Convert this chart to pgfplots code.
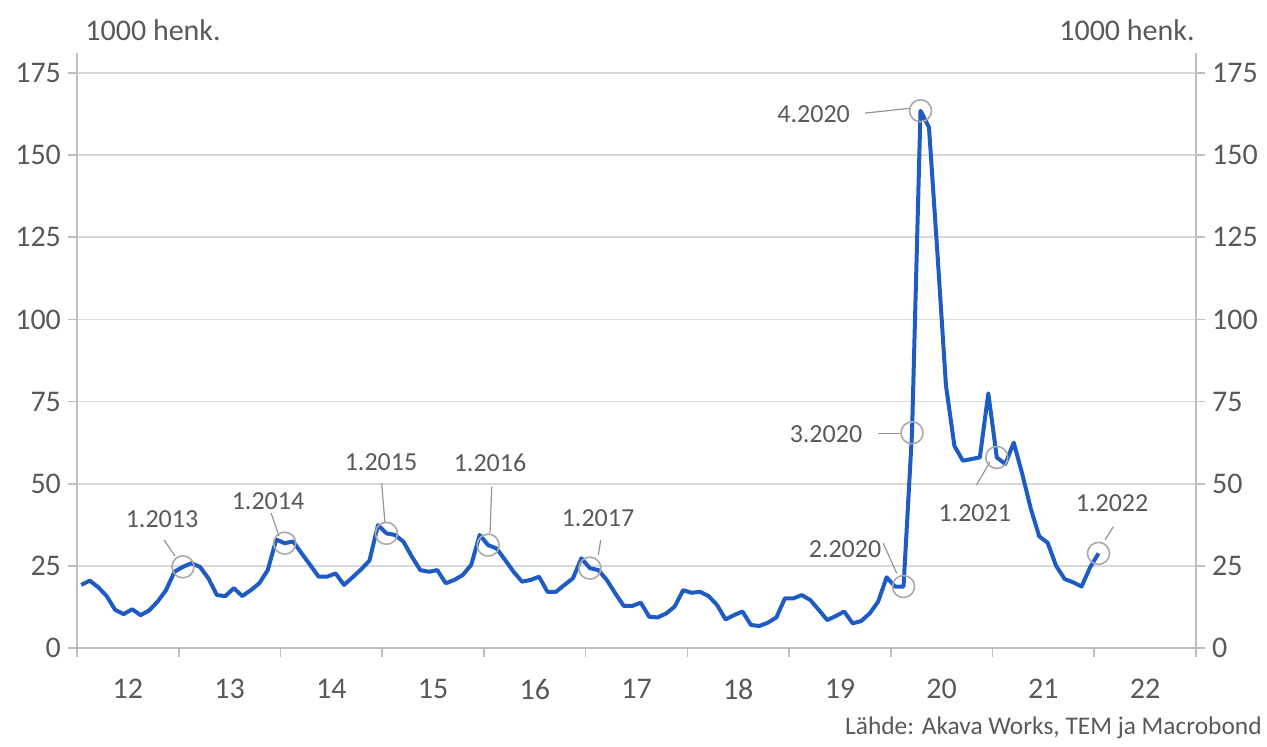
\documentclass[border=0pt]{standalone}
\usepackage{fontspec}
\setmainfont{Carlito}
\usepackage{pgfplots}
\pgfplotsset{compat=1.18}
\definecolor{lineblue}{RGB}{31,91,196}
\definecolor{gridgray}{RGB}{217,217,217}
\definecolor{axisgray}{RGB}{191,191,191}
\definecolor{textgray}{RGB}{89,89,89}
\definecolor{circgray}{RGB}{170,170,170}
\definecolor{leadgray}{RGB}{150,150,150}
\begin{document}
\begin{tikzpicture}
\useasboundingbox (0,0) rectangle (633.5pt,373.5pt);
\begin{axis}[
  at={(38.5pt,49.5pt)}, anchor=south west,
  scale only axis, width=559.5pt, height=297.35pt,
  xmin=-0.5, xmax=131.5, ymin=0, ymax=181,
  axis x line*=bottom, axis y line*=left,
  axis line style={draw=axisgray, line width=0.8pt, -},
  xtick={-0.5,11.5,...,131.5},
  x tick label as interval,
  xticklabels={12,13,14,15,16,17,18,19,20,21,22},
  ytick={0,25,...,175},
  ymajorgrids, grid style={gridgray, line width=0.8pt},
  tick align=outside, major tick length=4.5pt,
  tick style={axisgray, line width=0.8pt},
  ticklabel style={font=\fontsize{15}{18}\selectfont, text=textgray},
  xticklabel style={yshift=-7.5pt},
  /pgf/number format/assume math mode=true,
  clip=false,
]
\addplot[lineblue, line width=2pt, line join=round] coordinates {
(0,19.2)(1,20.5)(2,18.5)(3,15.8)(4,11.6)(5,10.3)(6,11.8)(7,10.0)(8,11.4)(9,14.1)(10,17.6)(11,23.2)
(12,24.7)(13,25.8)(14,24.7)(15,21.2)(16,16.1)(17,15.8)(18,18.2)(19,15.8)(20,17.6)(21,19.7)(22,23.7)(23,33.0)
(24,31.9)(25,32.4)(26,28.8)(27,25.3)(28,21.7)(29,21.7)(30,22.7)(31,19.2)(32,21.5)(33,23.9)(34,26.6)(35,37.4)
(36,34.9)(37,34.4)(38,32.4)(39,27.8)(40,23.7)(41,23.2)(42,23.7)(43,19.7)(44,20.7)(45,22.2)(46,25.3)(47,34.4)
(48,31.3)(49,30.3)(50,26.8)(51,23.2)(52,20.2)(53,20.7)(54,21.7)(55,17.1)(56,17.1)(57,19.2)(58,21.2)(59,27.3)
(60,24.3)(61,23.7)(62,20.7)(63,16.6)(64,12.8)(65,12.8)(66,13.8)(67,9.5)(68,9.3)(69,10.5)(70,12.6)(71,17.6)
(72,16.8)(73,17.1)(74,15.8)(75,13.1)(76,8.7)(77,10.0)(78,11.1)(79,7.0)(80,6.7)(81,7.7)(82,9.3)(83,15.1)
(84,15.1)(85,16.1)(86,14.6)(87,11.6)(88,8.5)(89,9.7)(90,11.1)(91,7.5)(92,8.2)(93,10.5)(94,14.1)(95,21.5)
(96,18.7)(97,18.7)(98,65.5)(99,163.5)(100,158.5)(101,120)(102,80)(103,61.5)(104,57)(105,57.5)(106,58)(107,77.5)
(108,58)(109,56)(110,62.5)(111,53)(112,42.5)(113,34)(114,32)(115,25)(116,21)(117,20)(118,18.7)(119,24.5)
(120,28.8)
};
\addplot[only marks, mark=o, mark size=5.5pt, mark options={draw=circgray, line width=0.8pt}] coordinates {
(12,24.7)(24,31.9)(36,34.9)(48,31.3)(60,24.3)(97,18.7)(98,65.5)(99,163.5)(108,58)(120,28.8)
};
\begin{scope}[leadgray, line width=0.6pt]
\draw (axis cs:9.76,32.9) -- (axis cs:11.06,28.0);
\draw (axis cs:22.39,41.1) -- (axis cs:23.33,34.1);
\draw (axis cs:35.44,50.1) -- (axis cs:35.83,38.0);
\draw (axis cs:48.42,49.1) -- (axis cs:48.22,34.9);
\draw (axis cs:61.28,32.9) -- (axis cs:61.0,28.3);
\draw (axis cs:94.6,31.9) -- (axis cs:96.2,22.7);
\draw (axis cs:94.0,65.4) -- (axis cs:96.8,65.4);
\draw (axis cs:92.46,162.8) -- (axis cs:97.9,164.3);
\draw (axis cs:105.6,49.6) -- (axis cs:107.2,56.7);
\draw (axis cs:121.75,36.9) -- (axis cs:120.77,32.9);
\end{scope}
\begin{scope}[every node/.style={font=\fontsize{13}{15}\selectfont, text=textgray, inner sep=0pt}]
\node at (axis cs:9.53,39.3) {1.2013};
\node at (axis cs:22.03,44.7) {1.2014};
\node at (axis cs:35.36,56.6) {1.2015};
\node at (axis cs:48.22,56.3) {1.2016};
\node at (axis cs:60.96,39.6) {1.2017};
\node at (axis cs:90.1,30.1) {2.2020};
\node at (axis cs:87.85,65.1) {3.2020};
\node at (axis cs:86.4,162.5) {4.2020};
\node at (axis cs:105.4,41.1) {1.2021};
\node at (axis cs:121.6,44.1) {1.2022};
\end{scope}
\end{axis}
\begin{axis}[
  at={(38.5pt,49.5pt)}, anchor=south west,
  scale only axis, width=559.5pt, height=297.35pt,
  xmin=-0.5, xmax=131.5, ymin=0, ymax=181,
  axis x line=none, axis y line*=right,
  axis line style={draw=axisgray, line width=0.8pt, -},
  ytick={0,25,...,175},
  tick align=outside, major tick length=4.5pt,
  tick style={axisgray, line width=0.8pt},
  ticklabel style={font=\fontsize{15}{18}\selectfont, text=textgray},
  /pgf/number format/assume math mode=true,
]
\end{axis}
\node[anchor=west, font=\fontsize{15}{18}\selectfont, text=textgray, inner sep=0pt] at (42.5pt,358.5pt) {1000 henk.};
\node[anchor=east, font=\fontsize{15}{18}\selectfont, text=textgray, inner sep=0pt] at (597.5pt,358.5pt) {1000 henk.};
\node[anchor=east, font=\fontsize{12.7}{15}\selectfont, text=textgray, inner sep=0pt] at (631pt,9.5pt) {Lähde: Akava Works, TEM ja Macrobond};
\end{tikzpicture}
\end{document}
